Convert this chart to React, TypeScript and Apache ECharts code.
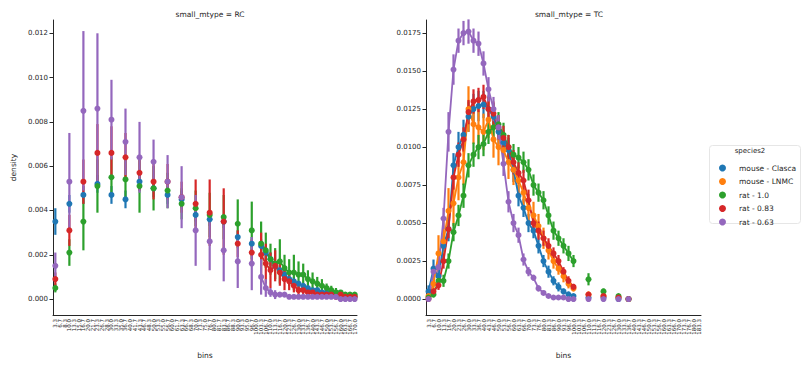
import { useEffect, useRef } from "react";
import * as echarts from "echarts";

const hueNames = ["mouse - Clasca", "mouse - LNMC", "rat - 1.0", "rat - 0.83", "rat - 0.63"];
const hueColors = ["#1f77b4", "#ff7f0e", "#2ca02c", "#d62728", "#9467bd"];

const rcBins = ["3.3","6.7","8.3","10.0","13.3","15.0","16.7","20.0","21.7","23.3","26.7","28.3","30.0","33.3","35.0","36.7","40.0","41.7","43.3","46.7","48.3","50.0","53.3","55.0","56.7","60.0","61.7","63.3","66.7","68.3","70.0","73.3","75.0","76.7","80.0","81.7","83.3","86.7","88.3","90.0","93.3","95.0","96.7","100.0","103.3","106.7","110.0","113.3","116.7","120.0","123.3","126.7","130.0","133.3","136.7","140.0","143.3","146.7","150.0","153.3","156.7","160.0","163.3","166.7","170.0"];
const tcBins = ["3.3","6.7","10.0","13.3","16.7","20.0","23.3","26.7","30.0","33.3","36.7","40.0","43.3","46.7","50.0","53.3","56.7","60.0","63.3","66.7","70.0","73.3","76.7","80.0","83.3","86.7","90.0","93.3","96.7","100.0","103.3","106.7","110.0","113.3","116.7","120.0","123.3","126.7","130.0","133.3","136.7","140.0","143.3","146.7","150.0","153.3","156.7","160.0","163.3","166.7","170.0","173.3","176.7","180.0","183.3"];

// category positions where each facet has data
const rcIdx = [0,3,6,9,12,15,18,21,24,27,30,33,36,39,42,44,45,46,47,48,49,50,51,52,53,54,55,56,57,58,59,60,61,62,63,64];
const tcIdx = [0,1,2,3,4,5,6,7,8,9,10,11,12,13,14,15,16,17,18,19,20,21,22,23,24,25,26,27,28,29,32,35,38,40];

// RC facet (no mouse - LNMC)
const rcClascaMean = [0.0035,0.0043,0.0047,0.0052,0.0047,0.0045,0.0053,0.0050,0.0047,0.0045,0.0038,0.0036,0.0035,0.0028,0.0025,0.0024,0.0021,0.0018,0.0015,0.0013,0.0011,0.0009,0.0008,0.0007,0.0006,0.0005,0.0004,0.0004,0.0003,0.0003,0.0002,0.0002,0.0002,0.0001,0.0001,0.0001];
const rcClascaErr = [0.0006,0.0004,0.0004,0.0004,0.0004,0.0004,0.0004,0.0004,0.0004,0.0004,0.0003,0.0003,0.0003,0.0003,0.0003,0.0003,0.0003,0.0003,0.0002,0.0002,0.0002,0.0002,0.0002,0.0001,0.0001,0.0001,0.0001,0.0001,0.0001,0.0001,0.0001,0.0001,0.0001,0.0001,0.0001,0.0001];
const rcRat10Mean = [0.0005,0.0021,0.0035,0.0051,0.0055,0.0054,0.0051,0.0050,0.0049,0.0043,0.0041,0.0038,0.0037,0.0034,0.0031,0.0025,0.0022,0.0018,0.0016,0.0017,0.0014,0.0012,0.0012,0.0011,0.0011,0.0009,0.0008,0.0007,0.0006,0.0005,0.0004,0.0003,0.0003,0.0002,0.0002,0.0002];
const rcRat10Err = [0.0002,0.0006,0.0013,0.0012,0.0009,0.0010,0.0012,0.0010,0.0008,0.0007,0.0008,0.0010,0.0010,0.0011,0.0013,0.0010,0.0008,0.0007,0.0007,0.0010,0.0006,0.0006,0.0008,0.0006,0.0005,0.0004,0.0004,0.0003,0.0003,0.0002,0.0002,0.0002,0.0001,0.0001,0.0001,0.0001];
const rcRat083Mean = [0.0009,0.0031,0.0053,0.0066,0.0066,0.0064,0.0057,0.0053,0.0053,0.0046,0.0043,0.0039,0.0035,0.0025,0.0021,0.0020,0.0016,0.0013,0.0015,0.0012,0.0009,0.0008,0.0006,0.0004,0.0004,0.0003,0.0003,0.0002,0.0002,0.0002,0.0002,0.0001,0.0002,0.0001,0.0001,0.0001];
const rcRat083Err = [0.0003,0.0007,0.0010,0.0013,0.0012,0.0011,0.0008,0.0008,0.0008,0.0007,0.0011,0.0015,0.0015,0.0006,0.0006,0.0010,0.0009,0.0008,0.0007,0.0006,0.0005,0.0004,0.0003,0.0003,0.0002,0.0002,0.0002,0.0001,0.0001,0.0001,0.0001,0.0001,0.0001,0.0001,0.0001,0.0001];
const rcRat063Mean = [0.0015,0.0053,0.0085,0.0086,0.0081,0.0071,0.0064,0.0062,0.0053,0.0046,0.0031,0.0026,0.0022,0.0017,0.0016,0.0010,0.0005,0.0003,0.0002,0.0002,0.0002,0.0001,0.0001,0.0001,0.0001,0.0001,0.0001,0.0001,0.0001,0.0001,0.0001,0.0001,0.0000,0.0000,0.0000,0.0000];
const rcRat063Err = [0.0006,0.0022,0.0036,0.0034,0.0018,0.0015,0.0016,0.0010,0.0012,0.0014,0.0016,0.0013,0.0014,0.0012,0.0012,0.0008,0.0004,0.0002,0.0002,0.0001,0.0001,0.0001,0.0001,0.0001,0.0001,0.0001,0.0001,0.0001,0.0001,0.0001,0.0001,0.0001,0.0001,0.0001,0.0001,0.0001];

// TC facet
const tcClascaMean = [0.0005,0.0020,0.0015,0.0035,0.0046,0.0088,0.0100,0.0108,0.0120,0.0125,0.0127,0.0128,0.0125,0.0120,0.0110,0.0103,0.0098,0.0085,0.0068,0.0060,0.0050,0.0045,0.0035,0.0025,0.0018,0.0012,0.0008,0.0005,0.0003,0.0002,0.0001,0.0001,0.0000,0.0000];
const tcClascaErr = [0.0004,0.0006,0.0005,0.0008,0.0008,0.0008,0.0010,0.0010,0.0010,0.0010,0.0010,0.0009,0.0009,0.0009,0.0008,0.0008,0.0008,0.0008,0.0007,0.0006,0.0006,0.0005,0.0005,0.0004,0.0004,0.0003,0.0003,0.0002,0.0002,0.0001,0.0001,0.0001,0.0001,0.0001];
const tcLnmcMean = [0.0002,0.0010,0.0030,0.0038,0.0058,0.0063,0.0080,0.0090,0.0125,0.0115,0.0113,0.0110,0.0118,0.0105,0.0100,0.0098,0.0090,0.0085,0.0078,0.0070,0.0060,0.0055,0.0048,0.0040,0.0032,0.0025,0.0020,0.0015,0.0010,0.0007,0.0003,0.0002,0.0001,0.0000];
const tcLnmcErr = [0.0002,0.0008,0.0012,0.0015,0.0015,0.0015,0.0015,0.0015,0.0015,0.0013,0.0012,0.0012,0.0012,0.0012,0.0012,0.0011,0.0011,0.0010,0.0010,0.0010,0.0009,0.0009,0.0008,0.0007,0.0006,0.0005,0.0004,0.0004,0.0003,0.0002,0.0002,0.0001,0.0001,0.0001];
const tcRat10Mean = [0.0001,0.0003,0.0012,0.0012,0.0025,0.0044,0.0055,0.0068,0.0088,0.0095,0.0100,0.0102,0.0110,0.0113,0.0115,0.0108,0.0100,0.0095,0.0093,0.0090,0.0085,0.0075,0.0070,0.0065,0.0055,0.0045,0.0040,0.0035,0.0030,0.0025,0.0013,0.0005,0.0002,0.0000];
const tcRat10Err = [0.0001,0.0002,0.0004,0.0004,0.0005,0.0006,0.0007,0.0008,0.0008,0.0008,0.0008,0.0008,0.0008,0.0008,0.0008,0.0008,0.0008,0.0007,0.0007,0.0007,0.0007,0.0007,0.0006,0.0006,0.0006,0.0006,0.0005,0.0005,0.0005,0.0004,0.0004,0.0002,0.0001,0.0001];
const tcRat083Mean = [0.0000,0.0005,0.0009,0.0025,0.0046,0.0080,0.0095,0.0105,0.0123,0.0130,0.0131,0.0133,0.0125,0.0122,0.0113,0.0106,0.0100,0.0090,0.0083,0.0078,0.0065,0.0050,0.0045,0.0040,0.0035,0.0030,0.0025,0.0018,0.0012,0.0008,0.0003,0.0002,0.0001,0.0000];
const tcRat083Err = [0.0001,0.0002,0.0003,0.0005,0.0006,0.0008,0.0008,0.0008,0.0008,0.0008,0.0008,0.0008,0.0008,0.0008,0.0008,0.0008,0.0008,0.0008,0.0007,0.0007,0.0007,0.0006,0.0006,0.0005,0.0005,0.0004,0.0004,0.0003,0.0003,0.0002,0.0001,0.0001,0.0001,0.0001];
const tcRat063Mean = [0.0000,0.0018,0.0021,0.0053,0.0110,0.0151,0.0170,0.0175,0.0176,0.0170,0.0168,0.0155,0.0138,0.0125,0.0113,0.0089,0.0064,0.0050,0.0042,0.0026,0.0018,0.0014,0.0007,0.0004,0.0002,0.0001,0.0001,0.0001,0.0000,0.0000,0.0000,0.0000,0.0000,0.0000];
const tcRat063Err = [0.0001,0.0004,0.0004,0.0007,0.0013,0.0010,0.0008,0.0008,0.0008,0.0008,0.0008,0.0008,0.0008,0.0008,0.0008,0.0008,0.0007,0.0006,0.0005,0.0004,0.0003,0.0002,0.0002,0.0001,0.0001,0.0001,0.0001,0.0001,0.0001,0.0001,0.0001,0.0001,0.0001,0.0001];

const rcYTicks = [0, 0.002, 0.004, 0.006, 0.008, 0.01, 0.012];
const tcYTicks = [0, 0.0025, 0.005, 0.0075, 0.01, 0.0125, 0.015, 0.0175];

const FONT = "DejaVu Sans";
const INK = "#262626";

function expand(n: number, idx: number[], vals: number[]) {
  const out: (number | null)[] = new Array(n).fill(null);
  idx.forEach((k, i) => { out[k] = vals[i]; });
  return out;
}

function hueSeries(panel: number, hue: number, n: number, idx: number[], mean: number[], err: number[]) {
  const color = hueColors[hue];
  const bars = idx.map((k, i) => [k, mean[i] - err[i], mean[i] + err[i]]);
  return [
    {
      type: "custom",
      name: hueNames[hue],
      xAxisIndex: panel,
      yAxisIndex: panel,
      data: bars,
      encode: { x: 0, y: [1, 2] },
      silent: true,
      renderItem: (_p: any, api: any) => {
        const a = api.coord([api.value(0), api.value(1)]);
        const b = api.coord([api.value(0), api.value(2)]);
        return {
          type: "line",
          shape: { x1: a[0], y1: a[1], x2: b[0], y2: b[1] },
          style: { stroke: color, lineWidth: 2.2 },
        };
      },
    },
    {
      type: "line",
      name: hueNames[hue],
      xAxisIndex: panel,
      yAxisIndex: panel,
      data: expand(n, idx, mean),
      connectNulls: false,
      symbol: "circle",
      symbolSize: 6,
      showAllSymbol: true,
      itemStyle: { color },
      lineStyle: { color, width: 1.8 },
    },
  ];
}

function xAxisFor(panel: number, bins: string[]) {
  return {
    type: "category",
    gridIndex: panel,
    data: bins,
    boundaryGap: true,
    name: "bins",
    nameLocation: "middle",
    nameGap: 36,
    nameTextStyle: { fontFamily: FONT, fontSize: 7.5, color: INK },
    axisLine: { onZero: false, lineStyle: { color: INK, width: 1 } },
    axisTick: { alignWithLabel: true, interval: 0, length: 3.5, lineStyle: { color: INK } },
    axisLabel: { interval: 0, hideOverlap: false, rotate: 90, fontSize: 5.5, fontFamily: FONT, color: INK, margin: 4 },
    splitLine: { show: false },
  };
}

function yAxisFor(panel: number, min: number, max: number, ticks: number[], digits: number, name: string) {
  return {
    type: "value",
    gridIndex: panel,
    min,
    max,
    name,
    nameLocation: "middle",
    nameGap: 36,
    nameTextStyle: { fontFamily: FONT, fontSize: 7.5, color: INK },
    axisLine: { show: true, lineStyle: { color: INK, width: 1 } },
    axisTick: { show: true, length: 3.5, customValues: ticks, lineStyle: { color: INK } },
    axisLabel: {
      customValues: ticks,
      fontSize: 7,
      fontFamily: FONT,
      color: INK,
      margin: 5,
      formatter: (v: number) => v.toFixed(digits),
    },
    splitLine: { show: false },
  };
}

export default function App() {
  const ref = useRef<HTMLDivElement>(null);
  useEffect(() => {
    if (!ref.current) return;
    const chart = echarts.init(ref.current, undefined, { renderer: "svg" });
    const nL = rcBins.length;
    const nR = tcBins.length;
    const series: any[] = [
      ...hueSeries(0, 0, nL, rcIdx, rcClascaMean, rcClascaErr),
      ...hueSeries(0, 2, nL, rcIdx, rcRat10Mean, rcRat10Err),
      ...hueSeries(0, 3, nL, rcIdx, rcRat083Mean, rcRat083Err),
      ...hueSeries(0, 4, nL, rcIdx, rcRat063Mean, rcRat063Err),
      ...hueSeries(1, 0, nR, tcIdx, tcClascaMean, tcClascaErr),
      ...hueSeries(1, 1, nR, tcIdx, tcLnmcMean, tcLnmcErr),
      ...hueSeries(1, 2, nR, tcIdx, tcRat10Mean, tcRat10Err),
      ...hueSeries(1, 3, nR, tcIdx, tcRat083Mean, tcRat083Err),
      ...hueSeries(1, 4, nR, tcIdx, tcRat063Mean, tcRat063Err),
    ];
    chart.setOption({
      animation: false,
      textStyle: { fontFamily: FONT },
      title: [
        { text: "small_mtype = RC", left: 205, top: 5, textAlign: "center", textStyle: { fontFamily: FONT, fontSize: 7.5, fontWeight: "normal", color: INK } },
        { text: "small_mtype = TC", left: 564, top: 5, textAlign: "center", textStyle: { fontFamily: FONT, fontSize: 7.5, fontWeight: "normal", color: INK } },
      ],
      grid: [
        { left: 53, top: 20, width: 304, height: 295 },
        { left: 426, top: 20, width: 275, height: 295 },
      ],
      xAxis: [xAxisFor(0, rcBins), xAxisFor(1, tcBins)],
      yAxis: [
        yAxisFor(0, -0.00072, 0.0126, rcYTicks, 3, "density"),
        yAxisFor(1, -0.00105, 0.01836, tcYTicks, 4, ""),
      ],
      legend: {
        data: hueNames.map((n, i) => ({ name: n, itemStyle: { color: hueColors[i] } })),
        orient: "vertical",
        left: 714,
        top: 159,
        itemGap: 5.5,
        itemWidth: 7,
        itemHeight: 7,
        icon: "circle",
        selectedMode: false,
        textStyle: { fontFamily: FONT, fontSize: 7.5, color: INK, padding: [0, 0, 0, 8] },
      },
      graphic: [
        { type: "rect", left: 709, top: 145, shape: { width: 91, height: 78, r: 3 }, style: { fill: "#ffffff", stroke: "#e6e6e6", lineWidth: 1 }, z: -1 },
        { type: "text", x: 750, y: 147, style: { text: "species2", fontFamily: FONT, fontSize: 7, fill: INK, textAlign: "center" } },
      ],
      series,
    });
    return () => chart.dispose();
  }, []);
  return <div ref={ref} style={{ position: "absolute", left: 0, top: 0, width: 803, height: 367, background: "#fff" }} />;
}
